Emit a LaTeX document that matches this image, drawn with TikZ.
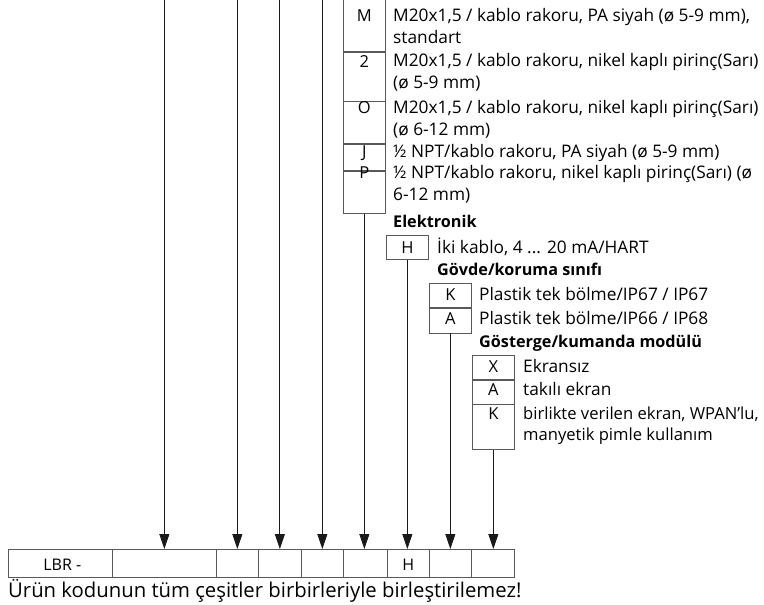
\documentclass[tikz,border=0pt]{standalone}
\usepackage{fontspec}
\setmainfont{Open Sans}
\usetikzlibrary{arrows.meta}

\tikzset{
  cell/.style={draw=black!65, line width=0.7pt, minimum width=42pt, inner sep=0pt, anchor=north west},
  codecell/.style={draw=black!65, line width=0.7pt, minimum height=28pt, inner sep=0pt, anchor=north west},
  key/.style={anchor=base, inner sep=0pt, font=\fontsize{16.5}{22}\selectfont},
  desc/.style={anchor=base west, inner sep=0pt, align=left, font=\fontsize{17.3}{22}\selectfont},
  head/.style={anchor=base west, inner sep=0pt, font=\fontsize{16.2}{22}\selectfont\bfseries},
  pointer/.style={draw=black!90, line width=0.8pt, -{Triangle[width=10pt,length=15pt]}}
}

\begin{document}
\begin{tikzpicture}[x=1pt,y=-1pt]
	\useasboundingbox (0,0) rectangle (764,605);

	% Kablo girisi
	\node[cell, minimum height=52pt] (gM) at (343,-1) {};
	\node[cell, minimum height=49pt] (g2) at (gM.south west) {};
	\node[cell, minimum height=42pt] (gO) at (g2.south west) {};
	\node[cell, minimum height=26pt] (gJ) at (gO.south west) {};
	\node[cell, minimum height=42pt] (gP) at (gJ.south west) {};
	\node[key] at (gM.north |- 0,21) {M};
	\node[key] at (g2.north |- 0,67) {2};
	\node[key] at (gO.north |- 0,113) {O};
	\node[key] at (gJ.north |- 0,157) {J};
	\node[key] at (gP.north |- 0,178) {P};
	% mehrzeilig: Basislinie der letzten Zeile
	\node[desc] (dM) at (393,43) {M20x1,5 / kablo rakoru, PA siyah (ø 5-9 mm),\\standart};
	\node[desc] (d2) at (393,88) {M20x1,5 / kablo rakoru, nikel kaplı pirinç(Sarı)\\(ø 5-9 mm)};
	\node[desc] (dO) at (393,135) {M20x1,5 / kablo rakoru, nikel kaplı pirinç(Sarı)\\(ø 6-12 mm)};
	\node[desc] (dJ) at (393,157) {½ NPT/kablo rakoru, PA siyah (ø 5-9 mm)};
	\node[desc] (dP) at (393,200) {½ NPT/kablo rakoru, nikel kaplı pirinç(Sarı) (ø\\6-12 mm)};

	% Elektronik
	\node[head] (hElek) at (393,227) {Elektronik};
	\node[cell, minimum height=24pt] (eH) at (386,235) {};
	\node[key] at (eH.north |- 0,253) {H};
	\node[desc] (dH) at (437,253) {İki kablo, 4 ... 20 mA/HART};

	% Govde/koruma sinifi
	\node[head] (hGov) at (437,275) {Gövde/koruma sınıfı};
	\node[cell, minimum height=24pt] (hK) at (429,283) {};
	\node[cell, minimum height=25pt] (hA) at (hK.south west) {};
	\node[key] at (hK.north |- 0,300) {K};
	\node[key] at (hA.north |- 0,324) {A};
	\node[desc] (dhK) at (479,300) {Plastik tek bölme/IP67 / IP67};
	\node[desc] (dhA) at (479,324) {Plastik tek bölme/IP66 / IP68};

	% Gosterge/kumanda modulu
	\node[head] (hGos) at (479,347) {Gösterge/kumanda modülü};
	\node[cell, minimum height=24pt] (mX) at (472,355) {};
	\node[cell, minimum height=24pt] (mA) at (mX.south west) {};
	\node[cell, minimum height=45pt] (mK) at (mA.south west) {};
	\node[key] at (mX.north |- 0,372) {X};
	\node[key] at (mA.north |- 0,395) {A};
	\node[key] at (mK.north |- 0,419) {K};
	\node[desc] (dmX) at (523,372) {Ekransız};
	\node[desc] (dmA) at (523,395) {takılı ekran};
	\node[desc, font=\fontsize{16.6}{21}\selectfont] (dmK) at (523,440) {birlikte verilen ekran, WPAN’lu,\\manyetik pimle kullanım};

	% Urun kodu
	\foreach \name/\xa/\xb/\txt in {c0/8/112/LBR -, c1/112/216/, c2/216/258/, c3/258/301/, c4/301/343/, c5/343/387/, c6/387/429/H, c7/429/471/, c8/471/514/}
		\node[codecell, minimum width={(\xb-\xa)*1pt}] (\name) at (\xa,549) {};
	\node[key, font=\fontsize{16}{18}\selectfont] at ([xshift=2pt]c0.north |- 0,570) {LBR -};
	\node[key, font=\fontsize{16}{18}\selectfont] at (c6.north |- 0,570) {H};
	\node[anchor=base west, inner sep=0pt, font=\fontsize{20.3}{24}\selectfont] (note) at (8,597) {Ürün kodunun tüm çeşitler birbirleriyle birleştirilemez!};

	% Oklar
	\coordinate (t1) at (c1.north |- 0,0);
	\coordinate (t2) at (c2.north |- 0,0);
	\coordinate (t3) at (c3.north |- 0,0);
	\coordinate (t4) at (c4.north |- 0,0);
	\draw[pointer] (t1) -- (c1.north);
	\draw[pointer] (t2) -- (c2.north);
	\draw[pointer] (t3) -- (c3.north);
	\draw[pointer] (t4) -- (c4.north);
	\draw[pointer] (gP.south) -- (gP.south |- c5.north);
	\draw[pointer] (eH.south) -- (eH.south |- c6.north);
	\draw[pointer] (hA.south) -- (hA.south |- c7.north);
	\draw[pointer] (mK.south) -- (mK.south |- c8.north);
\end{tikzpicture}
\end{document}
